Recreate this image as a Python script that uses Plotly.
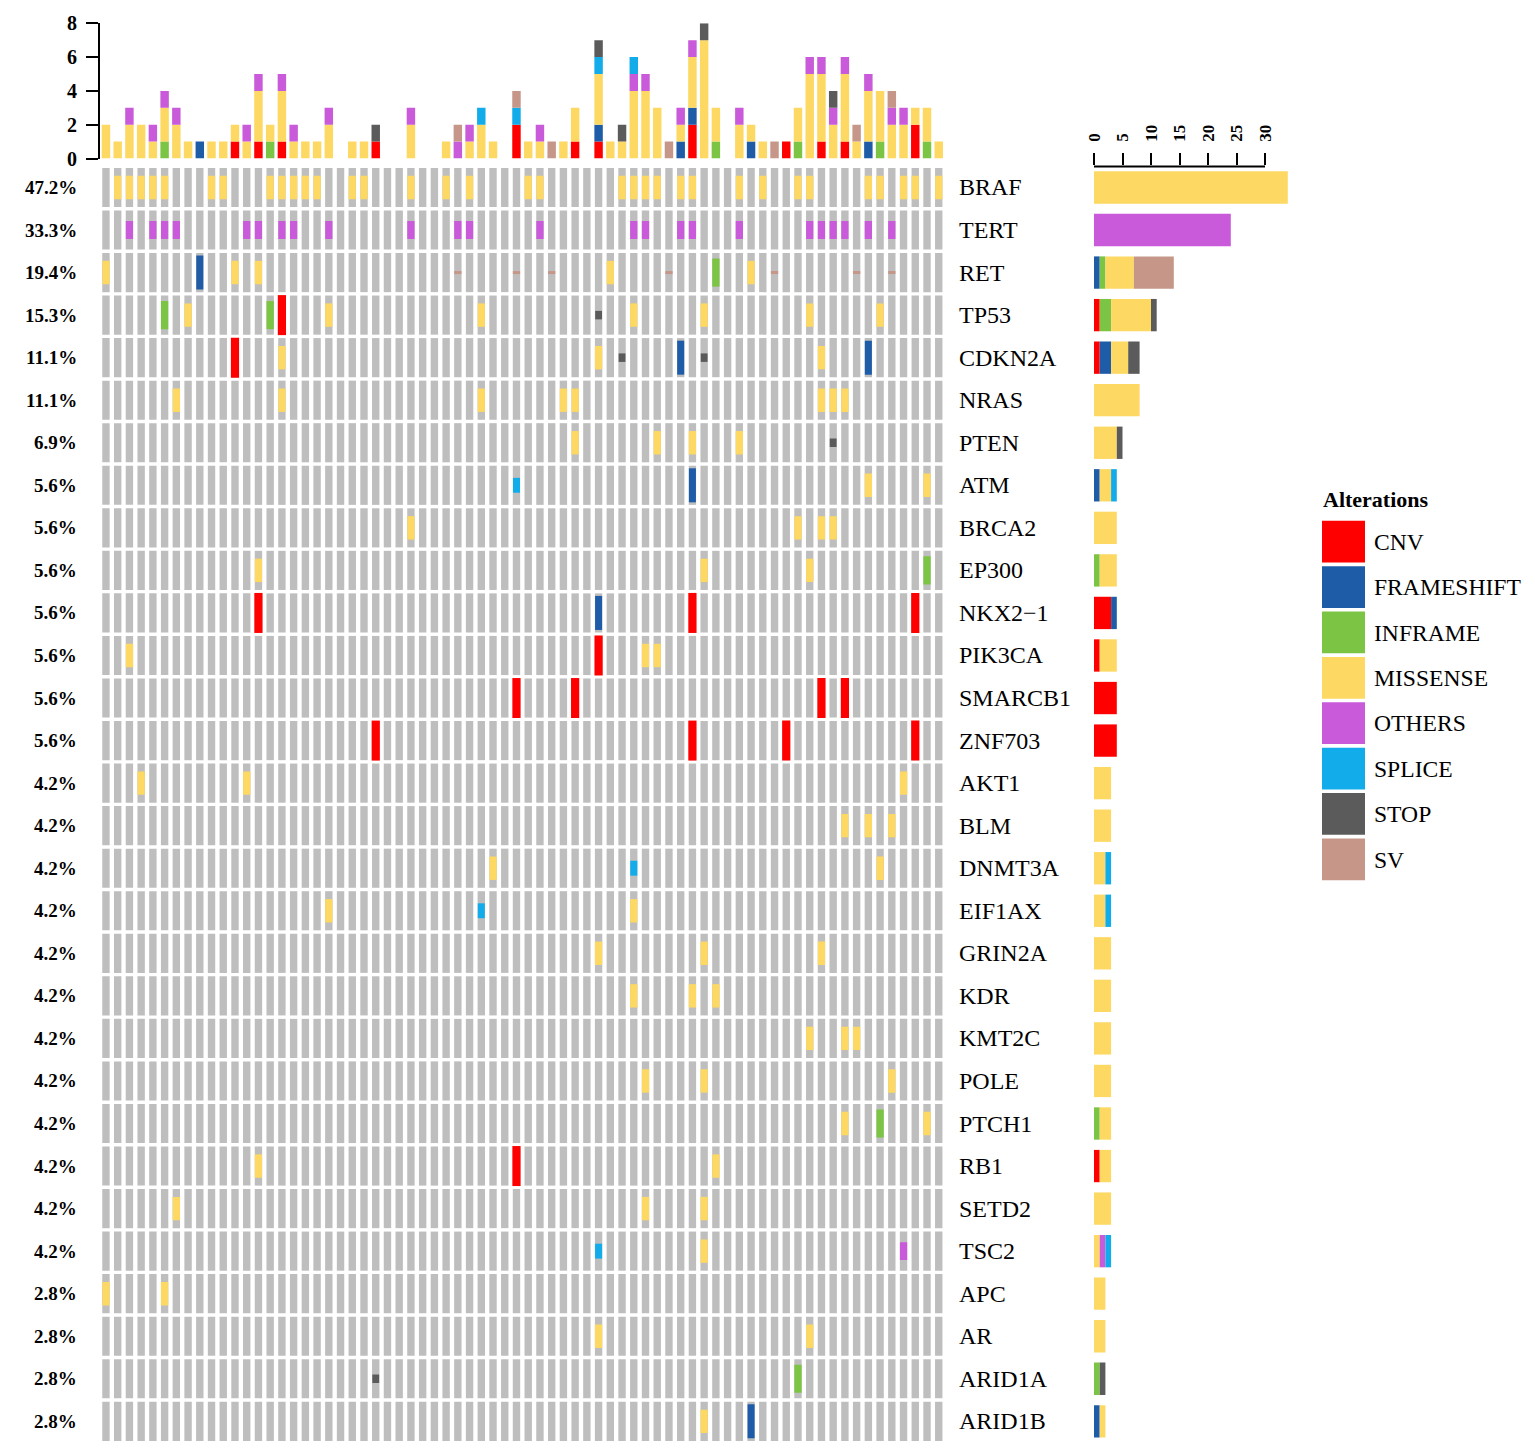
import numpy as np
import plotly.graph_objects as go

W, H = 1535, 1455
PAGE_OFFSET = 8  # the page body margin shifts the figure by this much
FONT = "Liberation Serif"

n_samples = 72

types = ["CNV", "FRAMESHIFT", "INFRAME", "MISSENSE", "OTHERS", "SPLICE", "STOP", "SV"]
colors = {"CNV": "#FF0000", "FRAMESHIFT": "#1F5CA8", "INFRAME": "#7CC443",
          "MISSENSE": "#FDD862", "OTHERS": "#C95AD9", "SPLICE": "#12ACEB",
          "STOP": "#5B5B5B", "SV": "#C69789"}
# cell glyph (width, height) as a fraction of the cell
glyph = {"CNV": (0.7, 0.94), "FRAMESHIFT": (0.6, 0.8), "INFRAME": (0.62, 0.66),
         "MISSENSE": (0.62, 0.55), "OTHERS": (0.62, 0.42), "SPLICE": (0.6, 0.35),
         "STOP": (0.58, 0.2), "SV": (0.62, 0.07)}

genes = ["BRAF", "TERT", "RET", "TP53", "CDKN2A", "NRAS", "PTEN", "ATM", "BRCA2", "EP300",
         "NKX2\u22121", "PIK3CA", "SMARCB1", "ZNF703", "AKT1", "BLM", "DNMT3A", "EIF1AX",
         "GRIN2A", "KDR", "KMT2C", "POLE", "PTCH1", "RB1", "SETD2", "TSC2", "APC", "AR",
         "ARID1A", "ARID1B"]

# (sample column, alteration) per gene
alterations = {
    "BRAF": [(c, "MISSENSE") for c in [1, 2, 3, 4, 5, 9, 10, 14, 15, 16, 17, 18, 21, 22, 26, 29, 31,
                                       36, 37, 44, 45, 46, 47, 49, 50, 54, 56, 59, 60, 65, 66, 68, 69, 71]],
    "TERT": [(c, "OTHERS") for c in [2, 4, 5, 6, 12, 13, 15, 16, 19, 26, 30, 31,
                                     37, 45, 46, 49, 50, 54, 60, 61, 62, 63, 65, 67]],
    "RET": [(0, "MISSENSE"), (8, "FRAMESHIFT"), (11, "MISSENSE"), (13, "MISSENSE"), (30, "SV"),
            (35, "SV"), (38, "SV"), (43, "MISSENSE"), (48, "SV"), (52, "INFRAME"), (55, "MISSENSE"),
            (57, "SV"), (64, "SV"), (67, "SV")],
    "TP53": [(5, "INFRAME"), (7, "MISSENSE"), (14, "INFRAME"), (15, "CNV"), (19, "MISSENSE"),
             (32, "MISSENSE"), (42, "STOP"), (45, "MISSENSE"), (51, "MISSENSE"), (60, "MISSENSE"),
             (66, "MISSENSE")],
    "CDKN2A": [(11, "CNV"), (15, "MISSENSE"), (42, "MISSENSE"), (44, "STOP"), (49, "FRAMESHIFT"),
               (51, "STOP"), (61, "MISSENSE"), (65, "FRAMESHIFT")],
    "NRAS": [(c, "MISSENSE") for c in [6, 15, 32, 39, 40, 61, 62, 63]],
    "PTEN": [(40, "MISSENSE"), (47, "MISSENSE"), (50, "MISSENSE"), (54, "MISSENSE"), (62, "STOP")],
    "ATM": [(35, "SPLICE"), (50, "FRAMESHIFT"), (65, "MISSENSE"), (70, "MISSENSE")],
    "BRCA2": [(c, "MISSENSE") for c in [26, 59, 61, 62]],
    "EP300": [(13, "MISSENSE"), (51, "MISSENSE"), (60, "MISSENSE"), (70, "INFRAME")],
    "NKX2\u22121": [(13, "CNV"), (42, "FRAMESHIFT"), (50, "CNV"), (69, "CNV")],
    "PIK3CA": [(2, "MISSENSE"), (42, "CNV"), (46, "MISSENSE"), (47, "MISSENSE")],
    "SMARCB1": [(c, "CNV") for c in [35, 40, 61, 63]],
    "ZNF703": [(c, "CNV") for c in [23, 50, 58, 69]],
    "AKT1": [(c, "MISSENSE") for c in [3, 12, 68]],
    "BLM": [(c, "MISSENSE") for c in [63, 65, 67]],
    "DNMT3A": [(33, "MISSENSE"), (45, "SPLICE"), (66, "MISSENSE")],
    "EIF1AX": [(19, "MISSENSE"), (32, "SPLICE"), (45, "MISSENSE")],
    "GRIN2A": [(c, "MISSENSE") for c in [42, 51, 61]],
    "KDR": [(c, "MISSENSE") for c in [45, 50, 52]],
    "KMT2C": [(c, "MISSENSE") for c in [60, 63, 64]],
    "POLE": [(c, "MISSENSE") for c in [46, 51, 67]],
    "PTCH1": [(63, "MISSENSE"), (66, "INFRAME"), (70, "MISSENSE")],
    "RB1": [(13, "MISSENSE"), (35, "CNV"), (52, "MISSENSE")],
    "SETD2": [(c, "MISSENSE") for c in [6, 46, 51]],
    "TSC2": [(42, "SPLICE"), (51, "MISSENSE"), (68, "OTHERS")],
    "APC": [(c, "MISSENSE") for c in [0, 5]],
    "AR": [(c, "MISSENSE") for c in [42, 60]],
    "ARID1A": [(23, "STOP"), (59, "INFRAME")],
    "ARID1B": [(51, "MISSENSE"), (55, "FRAMESHIFT")],
}

# alterations per sample (top bar)
top_cnv =        [0,0,0,0,0,0,0,0,0,0,0,1,0,1,0,1,0,0,0,0,0,0,0,1,0,0,0,0,0,0,0,0,0,0,0,2,
                  0,0,0,0,1,0,1,0,0,0,0,0,0,0,2,0,0,0,0,0,0,0,1,0,0,1,0,1,0,0,0,0,0,2,0,0]
top_frameshift = [0,0,0,0,0,0,0,0,1,0,0,0,0,0,0,0,0,0,0,0,0,0,0,0,0,0,0,0,0,0,0,0,0,0,0,0,
                  0,0,0,0,0,0,1,0,0,0,0,0,0,1,1,0,0,0,0,1,0,0,0,0,0,0,0,0,0,1,0,0,0,0,0,0]
top_inframe =    [0,0,0,0,0,1,0,0,0,0,0,0,0,0,1,0,0,0,0,0,0,0,0,0,0,0,0,0,0,0,0,0,0,0,0,0,
                  0,0,0,0,0,0,0,0,0,0,0,0,0,0,0,0,1,0,0,0,0,0,0,1,0,0,0,0,0,0,1,0,0,0,1,0]
top_missense =   [2,1,2,2,1,2,2,1,0,1,1,1,1,3,1,3,1,1,1,2,0,1,1,0,0,0,2,0,0,1,0,1,2,1,0,0,
                  1,1,0,1,2,0,3,1,1,4,4,3,0,1,3,7,2,0,2,1,1,0,0,2,5,4,2,4,1,3,3,2,2,1,2,1]
top_others =     [0,0,1,0,1,1,1,0,0,0,0,0,1,1,0,1,1,0,0,1,0,0,0,0,0,0,1,0,0,0,1,1,0,0,0,0,
                  0,1,0,0,0,0,0,0,0,1,1,0,0,1,1,0,0,0,1,0,0,0,0,0,1,1,1,1,0,1,0,1,1,0,0,0]
top_splice =     [0,0,0,0,0,0,0,0,0,0,0,0,0,0,0,0,0,0,0,0,0,0,0,0,0,0,0,0,0,0,0,0,1,0,0,1,
                  0,0,0,0,0,0,1,0,0,1,0,0,0,0,0,0,0,0,0,0,0,0,0,0,0,0,0,0,0,0,0,0,0,0,0,0]
top_stop =       [0,0,0,0,0,0,0,0,0,0,0,0,0,0,0,0,0,0,0,0,0,0,0,1,0,0,0,0,0,0,0,0,0,0,0,0,
                  0,0,0,0,0,0,1,0,1,0,0,0,0,0,0,1,0,0,0,0,0,0,0,0,0,0,1,0,0,0,0,0,0,0,0,0]
top_sv =         [0,0,0,0,0,0,0,0,0,0,0,0,0,0,0,0,0,0,0,0,0,0,0,0,0,0,0,0,0,0,1,0,0,0,0,1,
                  0,0,1,0,0,0,0,0,0,0,0,0,1,0,0,0,0,0,0,0,0,1,0,0,0,0,0,0,1,0,0,1,0,0,0,0]
top_counts = dict(zip(types, [top_cnv, top_frameshift, top_inframe, top_missense,
                              top_others, top_splice, top_stop, top_sv]))

top_ticks = [0, 2, 4, 6, 8]
side_ticks = [0, 5, 10, 15, 20, 25, 30]


def fx(p):
    return (p - PAGE_OFFSET) / W


def fy(p):
    return 1 - (p - PAGE_OFFSET) / H


fig = go.Figure()
cols = np.arange(n_samples)
rows = np.arange(len(genes))

# gray background cells
gx = np.tile(cols, len(genes))
gy = np.repeat(rows, n_samples)
fig.add_trace(go.Bar(x=gx, y=np.full(gx.size, 0.92), base=gy - 0.46, width=0.63,
                     marker=dict(color="#BEBEBE", line_width=0), xaxis="x", yaxis="y",
                     hoverinfo="skip", showlegend=False))

# alteration glyphs
for t in types:
    xs, ys = [], []
    for i, g in enumerate(genes):
        for c, a in alterations[g]:
            if a == t:
                xs.append(c)
                ys.append(i)
    if not xs:
        continue
    w, h = glyph[t]
    fig.add_trace(go.Bar(x=xs, y=[h] * len(xs), base=np.array(ys) - h / 2, width=w,
                         marker=dict(color=colors[t], line_width=0), xaxis="x", yaxis="y",
                         name=t, showlegend=False))

# top stacked bars
base = np.zeros(n_samples)
for t in types:
    v = np.array(top_counts[t], dtype=float)
    fig.add_trace(go.Bar(x=cols, y=v, base=base.copy(), width=0.72,
                         marker=dict(color=colors[t], line_width=0), xaxis="x", yaxis="y2",
                         name=t, showlegend=False))
    base += v

# right stacked bars (counts per gene)
gene_counts = {t: np.array([sum(1 for _, a in alterations[g] if a == t) for g in genes], dtype=float)
               for t in types}
base = np.zeros(len(genes))
for t in types:
    v = gene_counts[t]
    fig.add_trace(go.Bar(y=rows, x=v, base=base.copy(), width=0.76, orientation="h",
                         marker=dict(color=colors[t], line_width=0), xaxis="x3", yaxis="y",
                         name=t, showlegend=False))
    base += v

# legend as its own small axis
fig.add_trace(go.Bar(y=types, x=[1] * len(types), orientation="h", width=0.92,
                     marker=dict(color=[colors[t] for t in types], line_width=0),
                     xaxis="x4", yaxis="y4", showlegend=False, hoverinfo="skip"))

# row labels
totals = sum(gene_counts[t] for t in types)
for i, g in enumerate(genes):
    pct = totals[i] / n_samples * 100
    fig.add_annotation(x=fx(79), xref="paper", y=i, yref="y", text=f"{pct:.1f}%",
                       showarrow=False, xanchor="right",
                       font=dict(family=FONT, size=19, color="black", weight="bold"))
    fig.add_annotation(x=fx(957), xref="paper", y=i, yref="y", text=g,
                       showarrow=False, xanchor="left",
                       font=dict(family=FONT, size=24, color="black"))

fig.add_annotation(x=fx(1321), y=fy(499), xref="paper", yref="paper", text="Alterations",
                   showarrow=False, xanchor="left", yanchor="middle",
                   font=dict(family=FONT, size=22, color="black", weight="bold"))

# axis line of the right barplot, 0..30 only
fig.add_shape(type="line", xref="x3", yref="paper", x0=0, x1=30, y0=fy(166.5), y1=fy(166.5),
              line=dict(color="black", width=2))

fig.update_layout(
    width=W, height=H,
    margin=dict(l=0, r=0, t=0, b=0, autoexpand=False),
    paper_bgcolor="white", plot_bgcolor="white",
    barmode="overlay",
    showlegend=False,
    xaxis=dict(domain=[fx(100.1), fx(944.6)], range=[-0.5, 71.5], visible=False, anchor="y",
               automargin=False),
    yaxis=dict(domain=[fy(1442.6), fy(166.2)], range=[29.5, -0.5], visible=False, anchor="x",
               automargin=False),
    yaxis2=dict(domain=[fy(158.5), fy(23.3)], range=[0, 8], anchor="x", automargin=False,
                tickvals=top_ticks, showgrid=False, zeroline=False,
                showline=True, linecolor="black", linewidth=2,
                ticks="outside", ticklen=12, tickwidth=2, tickcolor="black",
                ticklabelstandoff=5,
                tickfont=dict(family=FONT, size=20, color="black", weight="bold")),
    xaxis3=dict(domain=[fx(1094), fx(1094 + 5.7 * 36)], range=[0, 36], anchor="y", side="top",
                automargin=False,
                tickvals=side_ticks, showgrid=False, zeroline=False, showline=False,
                ticks="outside", ticklen=12, tickwidth=2, tickcolor="black", tickangle=-90,
                ticklabelstandoff=8,
                tickfont=dict(family=FONT, size=17, color="black", weight="bold")),
    xaxis4=dict(domain=[fx(1322), fx(1365)], range=[0, 1], anchor="y4", visible=False,
                automargin=False),
    yaxis4=dict(domain=[fy(882), fy(519)], type="category", categoryarray=types,
                range=[7.5, -0.5], anchor="x4", side="right", showgrid=False, automargin=False,
                zeroline=False, showline=False, ticks="", ticklabelstandoff=8,
                tickfont=dict(family=FONT, size=23.6, color="black")),
)

fig.write_html("out.html")
